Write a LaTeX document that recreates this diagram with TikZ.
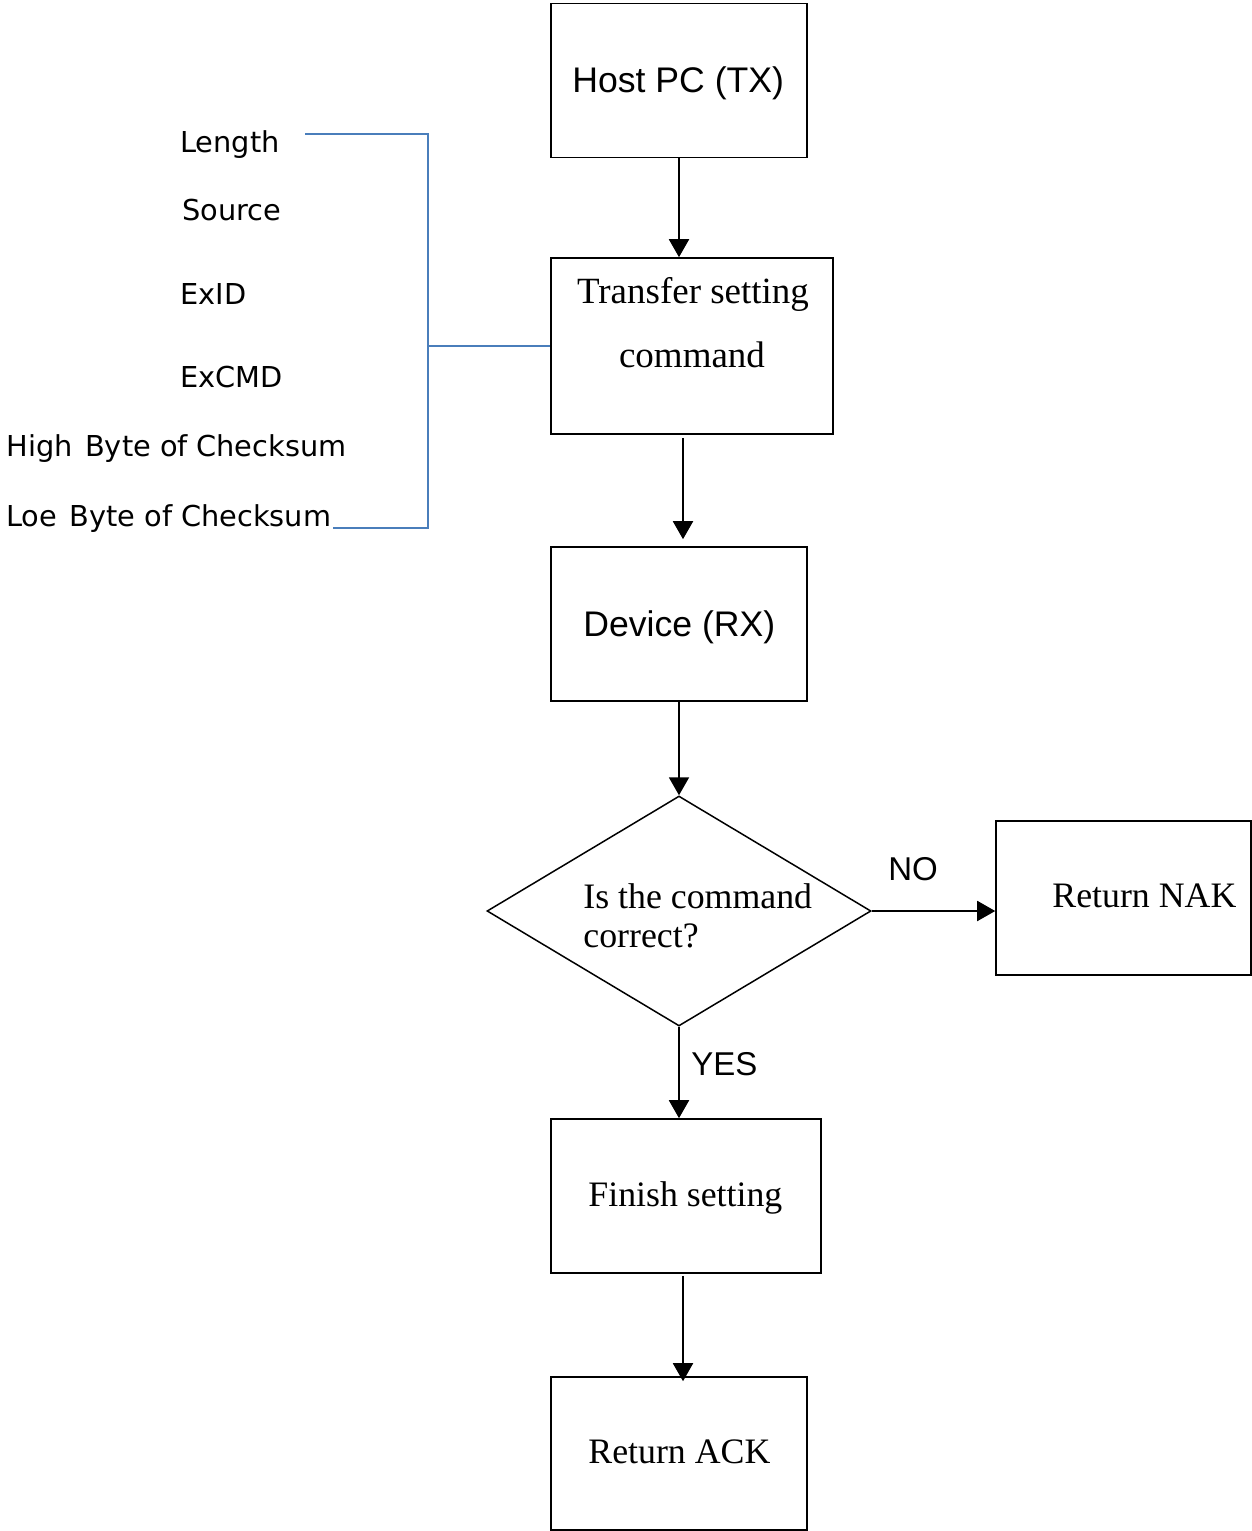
\documentclass[tikz,border=0pt]{standalone}
\usepackage{fontspec}
\usetikzlibrary{arrows.meta,shapes.geometric,calc}
\newfontfamily\sansA{Liberation Sans}
\newfontfamily\serifT{Liberation Serif}
\newfontfamily\verd{DejaVu Sans}
\definecolor{bracketblue}{RGB}{74,126,187}
\begin{document}
\begin{tikzpicture}[x=0.5pt,y=-0.5pt,
  box/.style={draw, line width=0.8pt, inner sep=0pt, minimum width=128pt, minimum height=77pt},
  arr/.style={-{Triangle[length=9pt,width=10pt]}, line width=1pt},
  bracket/.style={draw=bracketblue, line width=1pt},
  fieldlbl/.style={font=\verd\fontsize{14.4pt}{17pt}\selectfont, anchor=base west, inner sep=0pt},
  sanslbl/.style={font=\sansA\fontsize{17.8pt}{21pt}\selectfont, anchor=base west, inner sep=0pt},
  seriflbl/.style={font=\serifT\fontsize{17.9pt}{21pt}\selectfont, anchor=base west, inner sep=0pt},
  branchlbl/.style={font=\sansA\fontsize{16.5pt}{20pt}\selectfont, anchor=base west, inner sep=0pt}]
\useasboundingbox (0,0) rectangle (1252,1531);

% flow boxes
\node[box] (host) at (679,80.5) {};
\node[box, minimum width=141pt, minimum height=88pt] (transfer) at (692,346) {};
\node[box] (device) at (679,624) {};
\node[draw, line width=0.75pt, diamond, inner sep=0pt, minimum width=192pt, minimum height=115pt] (check) at (679,911) {};
\node[box, minimum width=127.5pt] (nak) at (1123.5,898) {};
\node[box, minimum width=135pt] (finish) at (686,1196) {};
\node[box, minimum height=76.5pt] (ack) at (679,1453.5) {};

% texts inside the shapes
\node[sanslbl] (host-t) at (572,92) {Host PC (TX)};
\node[font=\serifT\fontsize{18.5pt}{21pt}\selectfont, anchor=base, inner sep=0pt] (transfer-t1) at (693,303) {Transfer setting};
\node[font=\serifT\fontsize{18.5pt}{21pt}\selectfont, anchor=base, inner sep=0pt] (transfer-t2) at (692,367) {command};
\node[sanslbl] (device-t) at (583,636) {Device (RX)};
\node[seriflbl] (check-t1) at (583,908) {Is the command};
\node[seriflbl] (check-t2) at (583,947) {correct?};
\node[seriflbl] (nak-t) at (1052,907) {Return NAK};
\node[seriflbl] (finish-t) at (588,1206) {Finish setting};
\node[seriflbl] (ack-t) at (588,1463) {Return ACK};

% branch labels
\node[branchlbl] (no) at (888,880) {NO};
\node[branchlbl] (yes) at (691,1075) {YES};

% frame fields
\node[fieldlbl] (f-len) at (180,152) {Length};
\node[fieldlbl] (f-src) at (182,220) {Source};
\node[fieldlbl] (f-id) at (180,304) {ExID};
\node[fieldlbl] (f-cmd) at (180,387) {ExCMD};
\node[fieldlbl] (f-hi) at (6,456) {High\kern0.12em\ Byte of\kern0.3em Checksum};
\node[fieldlbl] (f-lo) at (6,526) {Loe\kern0.12em\ Byte of\kern0.3em Checksum};

% bracket gathering the fields into the command
\coordinate (bt) at (305,134);
\coordinate (bb) at (333,528);
\coordinate (bj) at (428,346);
\draw[bracket] (bt) -| (bj) |- (bb);
\draw[bracket] (bj) -- (transfer.west);

% connectors
\draw[arr] (host.south) -- (host.south |- transfer.north);
\draw[arr, shorten <=1.5pt, shorten >=3.5pt] ($(transfer.south)+(-9,0)$) -- ($(transfer.south |- device.north)+(-9,0)$);
\draw[arr] (device.south) -- (check.north);
\draw[arr] (check.east) -- (check.east -| nak.west);
\draw[arr] (check.south) -- (check.south |- finish.north);
\draw[arr, shorten <=1pt, shorten >=-2.5pt] ($(finish.south)+(-3,0)$) -- ($(finish.south |- ack.north)+(-3,0)$);
\end{tikzpicture}
\end{document}
